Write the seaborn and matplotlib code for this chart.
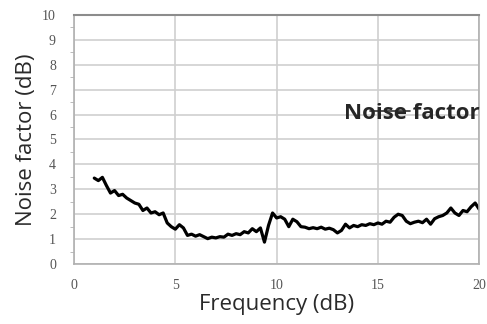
import matplotlib
matplotlib.use("Agg")
import matplotlib.pyplot as plt
import seaborn as sns
import pandas as pd

freq = [1.0, 1.2, 1.4, 1.6, 1.8, 2.0, 2.2, 2.4, 2.6, 2.8,
        3.0, 3.2, 3.4, 3.6, 3.8, 4.0, 4.2, 4.4, 4.6, 4.8,
        5.0, 5.2, 5.4, 5.6, 5.8, 6.0, 6.2, 6.4, 6.6, 6.8,
        7.0, 7.2, 7.4, 7.6, 7.8, 8.0, 8.2, 8.4, 8.6, 8.8,
        9.0, 9.2, 9.4, 9.6, 9.8, 10.0, 10.2, 10.4, 10.6, 10.8,
        11.0, 11.2, 11.4, 11.6, 11.8, 12.0, 12.2, 12.4, 12.6, 12.8,
        13.0, 13.2, 13.4, 13.6, 13.8, 14.0, 14.2, 14.4, 14.6, 14.8,
        15.0, 15.2, 15.4, 15.6, 15.8, 16.0, 16.2, 16.4, 16.6, 16.8,
        17.0, 17.2, 17.4, 17.6, 17.8, 18.0, 18.2, 18.4, 18.6, 18.8,
        19.0, 19.2, 19.4, 19.6, 19.8, 20.0]
noise = [3.45, 3.35, 3.48, 3.15, 2.85, 2.95, 2.75, 2.80, 2.65, 2.55,
         2.45, 2.40, 2.15, 2.25, 2.05, 2.10, 1.98, 2.05, 1.65, 1.50,
         1.40, 1.58, 1.45, 1.15, 1.20, 1.12, 1.18, 1.10, 1.02, 1.08,
         1.05, 1.10, 1.08, 1.20, 1.15, 1.22, 1.18, 1.30, 1.25, 1.42,
         1.30, 1.45, 0.88, 1.55, 2.05, 1.85, 1.90, 1.80, 1.50, 1.80,
         1.70, 1.50, 1.48, 1.42, 1.46, 1.42, 1.48, 1.40, 1.44, 1.38,
         1.25, 1.35, 1.60, 1.45, 1.55, 1.50, 1.58, 1.55, 1.62, 1.58,
         1.65, 1.60, 1.72, 1.68, 1.88, 2.00, 1.95, 1.72, 1.62, 1.68,
         1.72, 1.66, 1.80, 1.60, 1.82, 1.90, 1.95, 2.05, 2.25, 2.05,
         1.95, 2.15, 2.10, 2.30, 2.45, 2.20]
xticks = [0, 5, 10, 15, 20]
yticks = [0, 1, 2, 3, 4, 5, 6, 7, 8, 9, 10]

df = pd.DataFrame({"freq": freq, "noise": noise})

sns.set_style("white")
plt.rcParams["font.family"] = ["Open Sans", "DejaVu Sans"]

fig = plt.figure(figsize=(4.87, 3.24), dpi=100)
ax = fig.add_axes([0.152, 0.185, 0.832, 0.769])

sns.lineplot(data=df, x="freq", y="noise", ax=ax, color="black",
             linewidth=2.3, label="Noise factor")

ax.set_xlim(0, 20)
ax.set_ylim(0, 10)
ax.set_xticks(xticks)
ax.set_yticks(yticks)
ax.set_yticks([v + 0.5 for v in yticks[:-1]], minor=True)
ax.grid(True, which="major", color="#cfcfcf", linewidth=1.2)
ax.set_axisbelow(True)

for side in ["left", "bottom", "right"]:
    ax.spines[side].set_color("#b0b0b0")
    ax.spines[side].set_linewidth(1.2)
ax.spines["top"].set_color("#8c8c8c")
ax.spines["top"].set_linewidth(1.5)

ax.tick_params(axis="x", which="major", direction="inout", length=6,
               color="#b0b0b0", pad=8, labelsize=10, labelcolor="#555555")
ax.tick_params(axis="y", which="major", direction="out", length=5,
               color="#b0b0b0", pad=8, labelsize=10, labelcolor="#555555")
ax.tick_params(axis="y", which="minor", direction="out", length=3,
               color="#b0b0b0", left=True)
for lab in ax.get_xticklabels() + ax.get_yticklabels():
    lab.set_family(["Liberation Serif", "DejaVu Serif"])

ax.set_xlabel("Frequency (dB)", fontsize=16, color="#2a2a2a", labelpad=1)
ax.set_ylabel("Noise factor (dB)", fontsize=16, color="#2a2a2a", labelpad=4)

leg = ax.legend(loc="center right", bbox_to_anchor=(1.0, 0.606),
                frameon=False, borderpad=0, borderaxespad=0,
                handlelength=1.8, handletextpad=-3.0,
                prop={"family": "Open Sans", "weight": "bold", "size": 16})
for ln in leg.get_lines():
    ln.set_linewidth(1.2)
    ln.set_color("#333333")
    ln.set_zorder(5)

fig.savefig("out.png", dpi=100)
